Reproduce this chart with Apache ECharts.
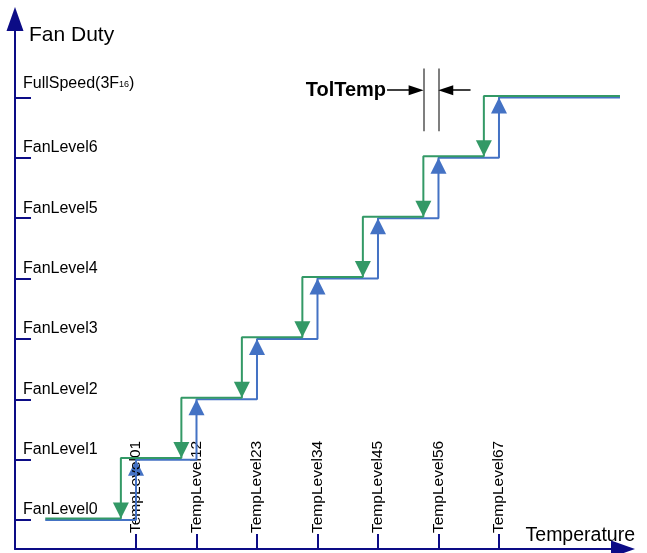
<!DOCTYPE html>
<html>
<head>
<meta charset="utf-8">
<script src="https://cdn.jsdelivr.net/npm/echarts@6/dist/echarts.min.js"></script>
<style>
html, body { margin: 0; padding: 0; background: #fff; }
#main { width: 647px; height: 553px; }
</style>
</head>
<body>
<div id="main"></div>
<script>
// x positions of the temperature thresholds (tick spacing = 1 unit)
var tempLevelNames = ['TempLevel01', 'TempLevel12', 'TempLevel23', 'TempLevel34', 'TempLevel45', 'TempLevel56', 'TempLevel67'];
var tempLevelValues = [2, 3, 4, 5, 6, 7, 8];
// fan duty levels
var fanLevelNames = ['FanLevel0', 'FanLevel1', 'FanLevel2', 'FanLevel3', 'FanLevel4', 'FanLevel5', 'FanLevel6', 'FullSpeed'];
var fanLevelValues = [0, 1, 2, 3, 4, 5, 6, 7];
// temperature rising (blue) steps up at TempLevel, falling (green) steps down TolTemp earlier
var heatUpTemps = [2, 3, 4, 5, 6, 7, 8];
var coolDownTemps = [1.75, 2.75, 3.75, 4.75, 5.75, 6.75, 7.75];
var startTemp = 0.5;
var endTemp = 10;
var coolShift = 0.026;
// TolTemp marker
var tolTempX = [6.75, 7];
var tolTempSpan = [6.44, 7.48];
var tolArrowY = 7.12;
var tolArrowFrom = [6.15, 7.53];
var tolArrowTo = [6.63, 7.12];

var navy = '#0c0c86';
var blue = '#4472c4';
var green = '#339966';
var font = 'Liberation Sans, Arial, sans-serif';

function stepPath(temps, shift) {
	var pts = [[startTemp, fanLevelValues[0] + shift]];
	for (var i = 0; i < temps.length; i++) {
		pts.push([temps[i], fanLevelValues[i] + shift]);
		pts.push([temps[i], fanLevelValues[i + 1] + shift]);
	}
	pts.push([endTemp, fanLevelValues[fanLevelValues.length - 1] + shift]);
	return pts;
}

var bluePath = stepPath(heatUpTemps, 0);
var greenPath = stepPath(coolDownTemps, coolShift);
var blueArrows = heatUpTemps.map(function (t, i) { return [t, fanLevelValues[i + 1]]; });
var greenArrows = coolDownTemps.map(function (t, i) { return [t, fanLevelValues[i] + coolShift]; });

var myChart = echarts.init(document.getElementById('main'));
var option = {
	animation: false,
	grid: {
		left: 15, right: 24, top: 19, bottom: 4,
		outerBoundsMode: 'none'
	},
	xAxis: {
		type: 'value',
		min: 0,
		max: 10.05,
		z: 3,
		name: 'Temperature',
		nameLocation: 'end',
		nameGap: 12,
		nameTextStyle: { fontFamily: font, fontSize: 19.5, color: '#000', align: 'right', verticalAlign: 'bottom', padding: [0, 0, 3, 0] },
		splitLine: { show: false },
		axisLine: {
			onZero: false,
			symbol: ['none', 'triangle'],
			symbolSize: [17, 24],
			lineStyle: { color: navy, width: 2 }
		},
		axisTick: {
			inside: true,
			length: 15,
			customValues: tempLevelValues,
			lineStyle: { color: navy, width: 2 }
		},
		axisLabel: {
			inside: true,
			rotate: 90,
			margin: 16,
			customValues: tempLevelValues,
			fontFamily: font,
			fontSize: 15.5,
			color: '#000',
			formatter: function (v) {
				return tempLevelNames[tempLevelValues.indexOf(Math.round(v))];
			}
		}
	},
	yAxis: {
		type: 'value',
		min: -0.48,
		max: 8.3,
		name: 'Fan Duty',
		nameLocation: 'end',
		nameGap: -6,
		nameTextStyle: { fontFamily: font, fontSize: 21, color: '#000', align: 'left', verticalAlign: 'top', padding: [0, 0, 0, 14] },
		splitLine: { show: false },
		axisLine: {
			onZero: false,
			symbol: ['none', 'triangle'],
			symbolSize: [17, 24],
			lineStyle: { color: navy, width: 2 }
		},
		axisTick: {
			inside: true,
			length: 16,
			customValues: fanLevelValues,
			lineStyle: { color: navy, width: 2 }
		},
		axisLabel: {
			inside: true,
			margin: 8,
			verticalAlign: 'bottom',
			customValues: fanLevelValues,
			formatter: function (v) {
				var i = fanLevelValues.indexOf(Math.round(v));
				if (i === fanLevelValues.length - 1) {
					return '{f|' + fanLevelNames[i] + '(3F}{s|16}{f|)}';
				}
				return '{n|' + fanLevelNames[i] + '}';
			},
			rich: {
				n: { fontFamily: font, fontSize: 16, color: '#000', padding: [0, 0, 2, 0] },
				f: { fontFamily: font, fontSize: 16, color: '#000', padding: [0, 0, 6, 0] },
				s: { fontFamily: font, fontSize: 9, color: '#000', verticalAlign: 'bottom', padding: [0, 0, 8, 0] }
			}
		}
	},
	series: [{
		type: 'line',
		name: 'rising',
		data: bluePath,
		showSymbol: false,
		silent: true,
		lineStyle: { color: blue, width: 2 },
		markLine: {
			silent: true,
			symbol: ['none', 'none'],
			label: { show: false },
			lineStyle: { color: '#555', width: 1.5, type: 'solid' },
			data: [
				[{ coord: [tolTempX[0], tolTempSpan[0]] }, { coord: [tolTempX[0], tolTempSpan[1]] }],
				[{ coord: [tolTempX[1], tolTempSpan[0]] }, { coord: [tolTempX[1], tolTempSpan[1]] }],
				[{ coord: [tolArrowFrom[0], tolArrowY], symbol: 'none',
				   label: { show: true, position: 'start', distance: 1, formatter: 'TolTemp', color: '#000', fontFamily: font, fontSize: 20, fontWeight: 'bold' },
				   lineStyle: { color: '#000', width: 1.5, type: 'solid' } },
				 { coord: [tolArrowTo[0], tolArrowY], symbol: 'triangle', symbolSize: [10, 15] }],
				[{ coord: [tolArrowFrom[1], tolArrowY], symbol: 'none', lineStyle: { color: '#000', width: 1.5, type: 'solid' } },
				 { coord: [tolArrowTo[1], tolArrowY], symbol: 'triangle', symbolSize: [10, 15] }]
			]
		}
	}, {
		type: 'line',
		name: 'falling',
		data: greenPath,
		showSymbol: false,
		silent: true,
		lineStyle: { color: green, width: 2 }
	}, {
		type: 'scatter',
		data: blueArrows,
		symbol: 'triangle',
		symbolSize: [16, 16],
		symbolOffset: [0, '50%'],
		silent: true,
		itemStyle: { color: blue, opacity: 1 }
	}, {
		type: 'scatter',
		data: greenArrows,
		symbol: 'triangle',
		symbolSize: [16, 16],
		symbolRotate: 180,
		symbolOffset: [0, '-50%'],
		silent: true,
		itemStyle: { color: green, opacity: 1 }
	}]
};
myChart.setOption(option);
</script>
</body>
</html>
